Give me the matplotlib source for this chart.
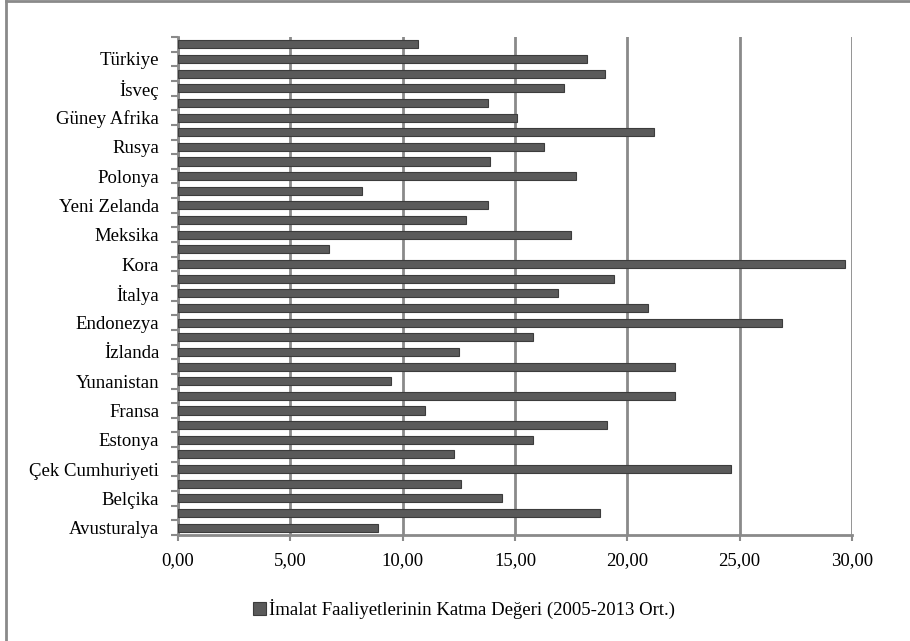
import matplotlib
matplotlib.use("Agg")
import matplotlib.pyplot as plt
from matplotlib.ticker import FixedLocator, FuncFormatter
import numpy as np

plt.rcParams['font.family'] = ['Liberation Serif', 'DejaVu Serif']

# Categories bottom -> top
countries = ["Avusturalya", "Avusturya", "Belçika", "Kanada", "Çek Cumhuriyeti",
             "Danimarka", "Estonya", "Finlandiya", "Fransa", "Almanya",
             "Yunanistan", "Macaristan", "İzlanda", "Hindistan", "Endonezya",
             "İrlanda", "İtalya", "Japonya", "Kora", "Lüksemburg",
             "Meksika", "Hollanda", "Yeni Zelanda", "Norveç", "Polonya",
             "Portekiz", "Rusya", "Slovakya", "Güney Afrika", "İspanya",
             "İsveç", "İsviçre", "Türkiye", "İngiltere"]
values = [8.9, 18.8, 14.4, 12.6, 24.6,
          12.3, 15.8, 19.1, 11.0, 22.1,
          9.5, 22.1, 12.5, 15.8, 26.9,
          20.9, 16.9, 19.4, 29.7, 6.7,
          17.5, 12.8, 13.8, 8.2, 17.7,
          13.9, 16.3, 21.2, 15.1, 13.8,
          17.2, 19.0, 18.2, 10.7]
xticks = [0, 5, 10, 15, 20, 25, 30]
series_name = "İmalat Faaliyetlerinin Katma Değeri (2005-2013 Ort.)"

W, H = 910, 641
fig = plt.figure(figsize=(W/100, H/100), dpi=100)
ax = fig.add_axes([178/W, 1-535/H, (852-178)/W, (535-37)/H])

y = np.arange(len(countries))
bars = ax.barh(y, values, height=0.55, color="#5a5a5a", edgecolor="#3c3c3c",
               linewidth=0.8, label=series_name, zorder=3)

ax.set_xlim(0, 30)
ax.set_ylim(-0.5, len(countries) - 0.5)
ax.set_xticks(xticks)
ax.xaxis.set_major_formatter(FuncFormatter(lambda v, p: f"{v:.2f}".replace(".", ",")))
ax.set_yticks(y)
ax.set_yticklabels([c if i % 2 == 0 else "" for i, c in enumerate(countries)])
ax.yaxis.set_minor_locator(FixedLocator(np.arange(-0.5, len(countries), 1.0)))

gc = "#8a8a8a"
ax.grid(axis="x", color=gc, linewidth=2.0, zorder=0)
for s in ["top", "right"]:
    ax.spines[s].set_visible(False)
ax.spines["left"].set_color(gc)
ax.spines["left"].set_linewidth(2.0)
ax.spines["bottom"].set_color(gc)
ax.spines["bottom"].set_linewidth(2.0)

fs = 13.5
ax.tick_params(axis="y", which="major", length=0, pad=13.5, labelsize=fs)
ax.tick_params(axis="y", which="minor", length=5, width=1.5, color=gc)
ax.tick_params(axis="x", which="major", length=4, width=1.5, color=gc, pad=8, labelsize=fs)

leg = fig.legend(handles=[bars], labels=[series_name], loc="center",
                 bbox_to_anchor=(464/W, 1-609/H), frameon=False, fontsize=fs,
                 handlelength=0.7, handleheight=0.7, handletextpad=0.2)

# outer chart border (top and left visible)
fig.add_artist(plt.Line2D([6/W, 6/W], [0, 1-1/H], transform=fig.transFigure, color=gc, linewidth=2))
fig.add_artist(plt.Line2D([6/W, 1], [1-1/H, 1-1/H], transform=fig.transFigure, color=gc, linewidth=2))

fig.savefig("out.png", dpi=100)
